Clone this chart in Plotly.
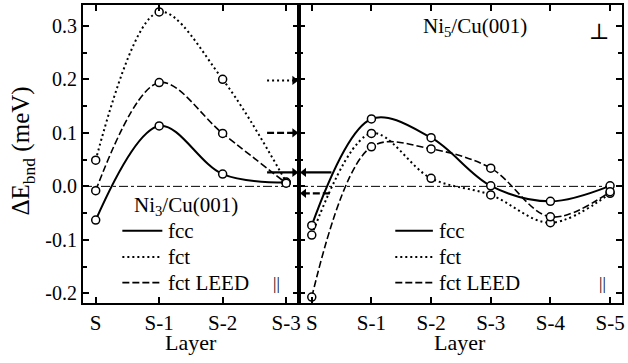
import plotly.graph_objects as go

# ---------------- data ----------------
layers3 = [0, 1, 2, 3]
layer3_labels = ["S", "S-1", "S-2", "S-3"]
layers5 = [0, 1, 2, 3, 4, 5]
layer5_labels = ["S", "S-1", "S-2", "S-3", "S-4", "S-5"]

ni3_fcc = [-0.063, 0.113, 0.023, 0.007]
ni3_fct = [0.049, 0.326, 0.200, 0.008]
ni3_leed = [-0.008, 0.194, 0.099, 0.006]

ni5_fcc = [-0.073, 0.126, 0.091, 0.001, -0.028, 0.001]
ni5_fct = [-0.091, 0.099, 0.015, -0.016, -0.068, -0.013]
ni5_leed = [-0.207, 0.074, 0.070, 0.034, -0.057, -0.010]

# perpendicular values marked by arrows at the panel boundary
perp3_fcc = 0.026
perp3_fct = 0.198
perp3_leed = 0.100
perp5_fcc = 0.026
perp5_leed = -0.013

y_tick_vals = [-0.2, -0.1, 0.0, 0.1, 0.2, 0.3]
y_tick_text = ["-0.2", "-0.1", "0.0", "0.1", "0.2", "0.3"]

series_names = ["fcc", "fct", "fct LEED"]

# ---------------- styles ----------------
FONT = "Liberation Serif"
BLACK = "black"
dash_styles = {"fcc": "solid", "fct": "2px,3px", "fct LEED": "7px,3px"}
widths = {"fcc": 2, "fct": 2, "fct LEED": 1.6}

fig = go.Figure()

def add_series(x, y, name, xa, ya):
    fig.add_trace(go.Scatter(
        x=x, y=y, mode="lines+markers", name=name, showlegend=False,
        line=dict(color=BLACK, width=widths[name], dash=dash_styles[name], shape="spline"),
        marker=dict(symbol="circle", size=8, color="white", line=dict(color=BLACK, width=1.5)),
        xaxis=xa, yaxis=ya, cliponaxis=False))

for name, vals in zip(series_names, [ni3_fcc, ni3_fct, ni3_leed]):
    add_series(layers3, vals, name, "x", "y")
for name, vals in zip(series_names, [ni5_fcc, ni5_fct, ni5_leed]):
    add_series(layers5, vals, name, "x2", "y2")

XR1 = [-0.2, 3.2]
XR2 = [-0.217, 5.2]
YR = [-0.218, 0.339]

axis_common = dict(showline=True, linewidth=2, linecolor=BLACK, mirror="allticks",
                   ticks="inside", ticklen=6, tickwidth=1.5, tickcolor=BLACK,
                   showgrid=False, zeroline=False)

def txt(size, family=FONT):
    return dict(size=size, family=family, color=BLACK)

fig.update_layout(
    width=628, height=363,
    margin=dict(l=83, r=3, t=4, b=60),
    paper_bgcolor="white", plot_bgcolor="white",
    font=txt(20),
    xaxis=dict(domain=[0, 0.4004], range=XR1, tickvals=layers3, ticktext=layer3_labels,
               tickfont=txt(21), anchor="y", **axis_common),
    xaxis2=dict(domain=[0.4004, 1], range=XR2, tickvals=layers5, ticktext=layer5_labels,
                tickfont=txt(21), anchor="y2", **axis_common),
    yaxis=dict(range=YR, tickvals=y_tick_vals, ticktext=y_tick_text, tickfont=txt(20),
               anchor="x", minor=dict(dtick=0.05, tick0=0, ticks="inside", ticklen=4, tickcolor=BLACK),
               **axis_common),
    yaxis2=dict(range=YR, tickvals=y_tick_vals, showticklabels=False, anchor="x2", matches="y",
                minor=dict(dtick=0.05, tick0=0, ticks="inside", ticklen=4, tickcolor=BLACK),
                **axis_common),
    showlegend=False,
)

shapes = []
# zero reference line (dash-dot) across both panels
shapes.append(dict(type="line", xref="paper", yref="y", x0=0, x1=1, y0=0, y1=0,
                   line=dict(color=BLACK, width=1, dash="dashdot"), layer="below"))

# legends (drawn in data coordinates of each panel)
leg_rows = [-0.083, -0.132, -0.180]
for (xa, ya, lx0, lx1, tx) in [("x", "y", 0.42, 1.05, 1.11), ("x2", "y2", 1.40, 2.03, 2.10)]:
    for name, yy in zip(series_names, leg_rows):
        shapes.append(dict(type="line", xref=xa, yref=ya, x0=lx0, x1=lx1, y0=yy, y1=yy,
                           line=dict(color=BLACK, width=widths[name], dash=dash_styles[name])))
        fig.add_annotation(x=tx, y=yy, xref=xa, yref=ya, text=name, showarrow=False,
                           xanchor="left", yanchor="middle", font=txt(21))

# perpendicular-value arrows near the panel boundary
perp_left = [(perp3_fct, dash_styles["fct"], 2), (perp3_leed, dash_styles["fct LEED"], 2.2),
             (perp3_fcc, "solid", 2.2)]
for yy, dsh, w in perp_left:
    shapes.append(dict(type="line", xref="x", yref="y", x0=2.70, x1=3.14, y0=yy, y1=yy,
                       line=dict(color=BLACK, width=w, dash=dsh)))
fig.add_trace(go.Scatter(x=[3.13] * len(perp_left), y=[p[0] for p in perp_left], mode="markers",
                         marker=dict(symbol="triangle-right", size=8, color=BLACK),
                         xaxis="x", yaxis="y", showlegend=False, cliponaxis=False, hoverinfo="skip"))
perp_right = [(perp5_fcc, "solid"), (perp5_leed, dash_styles["fct LEED"])]
for yy, dsh in perp_right:
    shapes.append(dict(type="line", xref="x2", yref="y2", x0=-0.15, x1=0.33, y0=yy, y1=yy,
                       line=dict(color=BLACK, width=2.2, dash=dsh)))
fig.add_trace(go.Scatter(x=[-0.13] * len(perp_right), y=[p[0] for p in perp_right], mode="markers",
                         marker=dict(symbol="triangle-left", size=8, color=BLACK),
                         xaxis="x2", yaxis="y2", showlegend=False, cliponaxis=False, hoverinfo="skip"))

fig.update_layout(shapes=shapes)

# panel labels
fig.add_annotation(x=1.43, y=-0.037, xref="x", yref="y", text="Ni<sub>3</sub>/Cu(001)",
                   showarrow=False, font=txt(21))
fig.add_annotation(x=2.73, y=0.297, xref="x2", yref="y2", text="Ni<sub>5</sub>/Cu(001)",
                   showarrow=False, font=txt(21))
fig.add_annotation(x=4.82, y=0.29, xref="x2", yref="y2", text="⊥",
                   showarrow=False, font=txt(22, "DejaVu Serif"))
fig.add_annotation(x=2.85, y=-0.182, xref="x", yref="y", text="||",
                   showarrow=False, font=txt(17))
fig.add_annotation(x=4.88, y=-0.182, xref="x2", yref="y2", text="||",
                   showarrow=False, font=txt(17))

# axis titles
fig.add_annotation(x=0.5, y=0, xref="x domain", yref="paper", yshift=-39,
                   text="Layer", showarrow=False, font=txt(22), yanchor="middle")
fig.add_annotation(x=0.5, y=0, xref="x2 domain", yref="paper", yshift=-39,
                   text="Layer", showarrow=False, font=txt(22), yanchor="middle")
fig.add_annotation(x=-0.1123, y=0.51, xref="paper", yref="paper", textangle=-90,
                   text="ΔE<sub>bnd</sub> (meV)", showarrow=False, font=txt(25),
                   xanchor="center", yanchor="middle")

fig.write_html("out.html")
